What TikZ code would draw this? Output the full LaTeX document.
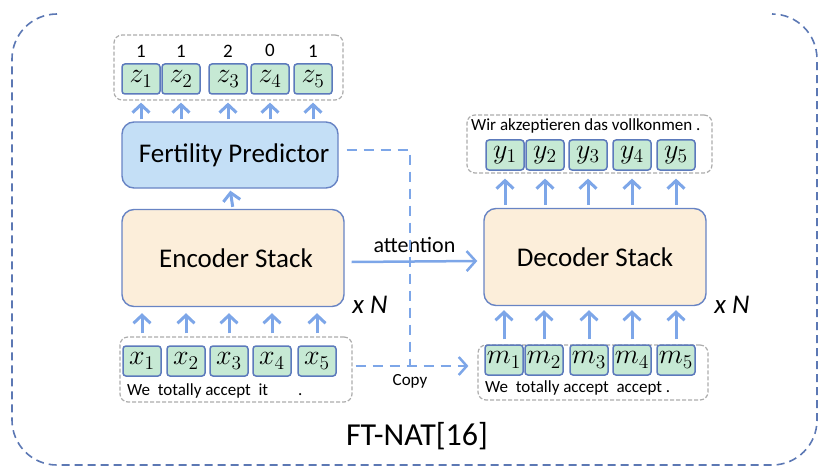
\documentclass[tikz,border=0pt]{standalone}
\usepackage{fontspec}
\setmainfont{Carlito}
\usetikzlibrary{arrows.meta, positioning}

\definecolor{arrblue}{RGB}{125,166,232}
\definecolor{tokfill}{RGB}{198,233,212}
\definecolor{tokline}{RGB}{92,122,188}
\definecolor{boxline}{RGB}{104,132,196}
\definecolor{encfill}{RGB}{252,238,218}
\definecolor{fertfill}{RGB}{196,223,246}
\definecolor{grpgray}{RGB}{172,172,172}
\definecolor{outerline}{RGB}{92,120,180}

\newcommand{\fsz}[1]{\fontsize{#1}{#1}\selectfont}
\newcommand{\tokm}[1]{\scalebox{1.35}{$#1$}}

\tikzset{
	tok/.style={draw=tokline, fill=tokfill, line width=1.5pt, rounded corners=3pt,
		minimum width=38pt, minimum height=30pt, inner sep=0pt, font=\fsz{20}},
	stackbox/.style={draw=boxline, line width=1.4pt, rounded corners=12pt, fill=encfill,
		minimum width=222pt, minimum height=97pt, font=\fsz{27}},
	grp/.style={draw=grpgray, dash pattern=on 4pt off 2pt, line width=1.2pt, rounded corners=8pt, inner sep=0pt},
	uparr/.style={draw=arrblue, line width=3pt, -{Straight Barb[length=8pt,width=17pt]}},
	attarr/.style={draw=arrblue, line width=2.5pt, -{Straight Barb[length=9pt,width=20pt]}},
	copyline/.style={draw=arrblue, line width=2.5pt, dash pattern=on 10pt off 7pt},
	num/.style={font=\fsz{19}, inner sep=0pt},
	word/.style={font=\fsz{17}, inner sep=0pt, anchor=west},
	xn/.style={font=\fsz{27}\itshape},
}

\begin{document}
\begin{tikzpicture}[x=1pt, y=-1pt]
	\useasboundingbox (0,0) rectangle (826,473);
	% outer frame
	\draw[outerline, line width=1.6pt, dash pattern=on 8pt off 5pt, rounded corners=45pt]
		(57,14) -- (12,14) -- (12,465) -- (817,465) -- (817,14) -- (772,14);

	% encoder side
	\node[stackbox, fill=fertfill, minimum width=216pt, minimum height=66pt] (fert) at (230,155) {\hspace{8pt}Fertility Predictor};
	\node[stackbox] (enc) at (233,258) {\hspace{6pt}Encoder Stack};
	\node[xn] at (370,305) {x N};

	\node[grp, minimum width=229pt, minimum height=65pt] (zgrp) at (228.5,67.5) {};
	\foreach \i/\cx/\n in {1/141/1, 2/181/1, 3/228/2, 4/270/0, 5/313/1}{
		\node[tok] (z\i) at (\cx,79) {\tokm{z_{\i}}};
		\node[num, above=6pt of z\i] {\n};
		\draw[uparr, shorten <=2pt, shorten >=2pt] (fert.north -| z\i) -- (zgrp.south -| z\i);
	}
	\draw[uparr, shorten <=2pt, shorten >=2pt] (enc.north) -- (fert.south);

	\node[grp, minimum width=232pt, minimum height=65pt] (xgrp) at (236,369.5) {};
	\foreach \i/\cx in {1/142, 2/186, 3/229, 4/272, 5/317}{
		\node[tok] (x\i) at (\cx,361) {\tokm{x_{\i}}};
		\draw[uparr, shorten <=3pt, shorten >=6pt] (xgrp.north -| x\i) -- (enc.south -| x\i);
	}
	\node[word] at (127,391) {We\ \ totally accept\ \ it\hspace{30pt}.};

	% decoder side
	\node[stackbox] (dec) at (595,257) {Decoder Stack};
	\node[xn] at (732,305) {x N};

	\node[grp, minimum width=245pt, minimum height=58pt] (ygrp) at (589.5,144) {};
	\node[word] at (471,126) {Wir akzeptieren das vollkonmen .};
	\foreach \i/\cx in {1/505, 2/545, 3/588, 4/632, 5/676}{
		\node[tok] (y\i) at (\cx,155) {\tokm{y_{\i}}};
		\draw[uparr, shorten <=3pt, shorten >=5pt] (dec.north -| y\i) -- (ygrp.south -| y\i);
	}

	\node[grp, minimum width=230pt, minimum height=55pt] (mgrp) at (593,372.5) {};
	\foreach \i/\cx in {1/504, 2/544, 3/589, 4/632, 5/676}{
		\node[tok] (m\i) at (\cx,360) {\tokm{m_{\i}}};
		\draw[uparr, shorten <=5pt, shorten >=4pt] (mgrp.north -| m\i) -- (dec.south -| m\i);
	}
	\node[word] at (485,388) {We\ \ totally accept\ \ accept .};

	% attention and copy
	\draw[attarr] ([xshift=7pt, yshift=-4pt]enc.east) -- ([xshift=-6pt, yshift=-4pt]dec.west)
		node[midway, above=4pt, font=\fsz{22}] {attention};
	\coordinate (copyjoin) at (410,366);
	\draw[copyline] ([xshift=8pt, yshift=5pt]fert.east) -| (copyjoin);
	\draw[copyline, -{Straight Barb[length=8pt,width=18pt]}] ([xshift=3pt]xgrp.east |- copyjoin) -- ([xshift=-9pt]mgrp.west |- copyjoin);
	\node[font=\fsz{17}, below=5pt of copyjoin] {Copy};

	\node[font=\fsz{32}] (title) at (417,436) {FT-NAT[16]};
\end{tikzpicture}
\end{document}
